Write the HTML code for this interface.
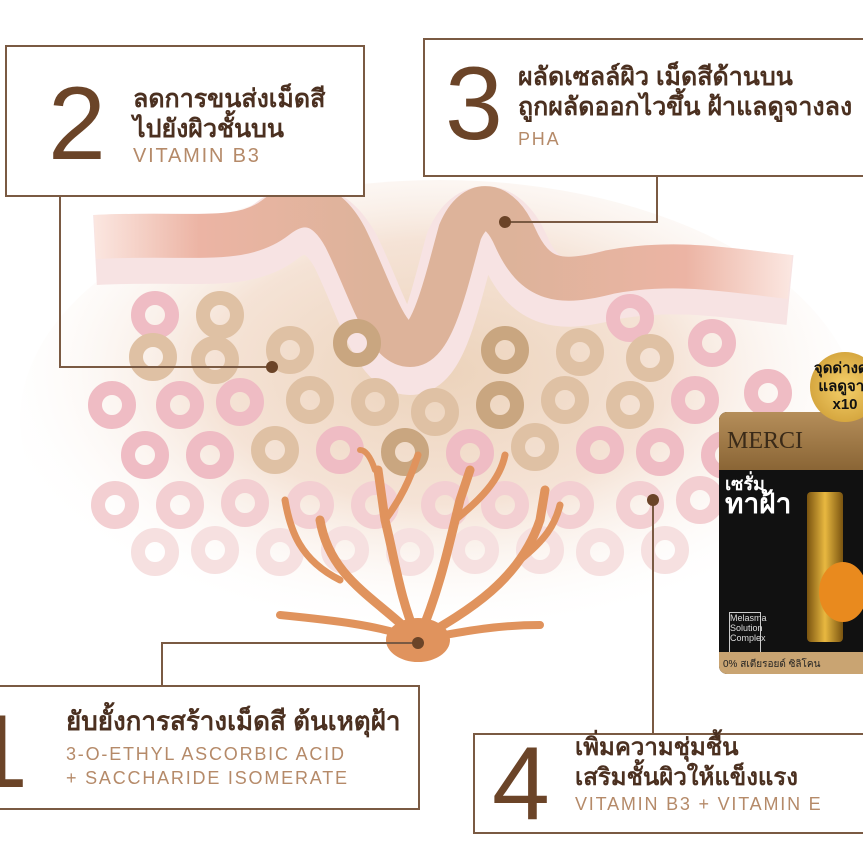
<!DOCTYPE html><html><head><meta charset="utf-8"><style>
body{margin:0;width:863px;height:863px;background:#fff;overflow:hidden;position:relative;font-family:"Liberation Sans","Noto Sans CJK SC",sans-serif}
.box{position:absolute;border:2px solid #7a5a43;background:#fff}
.num{position:absolute;font-family:"Liberation Sans",sans-serif;font-size:104px;color:#6b4428;line-height:1}
.th{position:absolute;color:#4b3020;font-weight:bold;font-size:25px;line-height:30px;font-family:"Liberation Sans","Noto Sans CJK SC","WenQuanYi Zen Hei",sans-serif;white-space:nowrap}
.sub{position:absolute;color:#b58a69;font-size:18px;letter-spacing:1.8px;line-height:24px;white-space:nowrap}
</style></head><body>
<svg width="863" height="863" style="position:absolute;left:0;top:0">
<defs>
<radialGradient id="bg" cx="0.5" cy="0.4" r="0.55"><stop offset="0" stop-color="#ecd3bb"/><stop offset="0.5" stop-color="#f5e3d6"/><stop offset="1" stop-color="#fff" stop-opacity="0"/></radialGradient>
<linearGradient id="band" x1="0" x2="1"><stop offset="0" stop-color="#fbe6e0"/><stop offset="0.15" stop-color="#ecb4a4"/><stop offset="0.4" stop-color="#ddb39a"/><stop offset="0.6" stop-color="#ddb39a"/><stop offset="0.85" stop-color="#ecb4a4"/><stop offset="1" stop-color="#fbe6e0"/></linearGradient>
</defs>
<ellipse cx="440" cy="420" rx="420" ry="240" fill="url(#bg)"/>
<path d="M95,250 C190,245 240,258 275,232 C300,212 325,215 345,250 C370,300 385,360 410,360 C432,360 445,300 460,245 C475,210 500,215 515,250 C535,295 560,298 610,285 C680,272 740,285 790,290" fill="none" stroke="#f7e3e3" stroke-width="70"/>
<path d="M95,237 C190,232 240,245 275,218 C300,198 325,200 345,237 C370,287 385,345 410,345 C432,345 445,287 460,232 C475,197 500,202 515,237 C535,282 560,285 610,272 C680,259 740,272 790,277" fill="none" stroke="url(#band)" stroke-width="44"/>
<g id="cells"></g>
<g fill="none" stroke="#e0935d" stroke-linecap="round">
<path d="M418,640 C400,600 395,560 385,520 L378,470" stroke-width="9"/>
<path d="M385,520 C400,500 410,480 418,455" stroke-width="7"/>
<path d="M418,640 C380,600 330,580 320,520" stroke-width="9"/>
<path d="M340,580 C300,560 290,530 285,500" stroke-width="7"/>
<path d="M418,640 C440,590 450,540 460,500 L470,470" stroke-width="9"/>
<path d="M455,520 C480,500 500,480 505,455" stroke-width="7"/>
<path d="M418,640 C470,610 520,580 540,520 L545,490" stroke-width="9"/>
<path d="M520,560 C545,540 555,525 560,505" stroke-width="7"/>
<path d="M418,640 C380,625 330,620 280,615" stroke-width="8"/>
<path d="M418,640 C470,630 500,625 540,625" stroke-width="8"/>
<path d="M375,470 C370,455 365,450 360,450" stroke-width="6"/>
</g>
<ellipse cx="418" cy="640" rx="32" ry="22" fill="#e0935d"/>
<g stroke="#7a5a43" stroke-width="2" fill="none">
<polyline points="60,195 60,367 272,367"/>
<polyline points="657,175 657,222 505,222"/>
<polyline points="162,685 162,643 418,643"/>
<polyline points="653,733 653,500"/>
</g>
<g fill="#6b4428"><circle cx="272" cy="367" r="6"/><circle cx="505" cy="222" r="6"/><circle cx="418" cy="643" r="6"/><circle cx="653" cy="500" r="6"/></g>
</svg>
<div class="box" style="left:5px;top:45px;width:356px;height:148px"></div>
<div class="num" style="left:48px;top:72px">2</div>
<div class="th" style="left:133px;top:84px">ลดการขนส่งเม็ดสี<br>ไปยังผิวชั้นบน</div>
<div class="sub" style="left:133px;top:144px;font-size:20px">VITAMIN B3</div>
<div class="box" style="left:423px;top:38px;width:450px;height:135px"></div>
<div class="num" style="left:445px;top:52px">3</div>
<div class="th" style="left:518px;top:62px">ผลัดเซลล์ผิว เม็ดสีด้านบน<br>ถูกผลัดออกไวขึ้น ฝ้าแลดูจางลง</div>
<div class="sub" style="left:518px;top:127px">PHA</div>
<div class="box" style="left:-5px;top:685px;width:421px;height:121px"></div>
<div class="num" style="left:-30px;top:700px">1</div>
<div class="th" style="left:66px;top:706px;font-size:26px">ยับยั้งการสร้างเม็ดสี ต้นเหตุฝ้า</div>
<div class="sub" style="left:66px;top:742px">3-O-ETHYL ASCORBIC ACID<br>+ SACCHARIDE ISOMERATE</div>
<div class="box" style="left:473px;top:733px;width:400px;height:97px"></div>
<div class="num" style="left:492px;top:732px">4</div>
<div class="th" style="left:575px;top:733px;font-size:24px">เพิ่มความชุ่มชื้น<br>เสริมชั้นผิวให้แข็งแรง</div>
<div class="sub" style="left:575px;top:792px">VITAMIN B3 + VITAMIN E</div>
<div style="position:absolute;left:719px;top:412px;width:150px;height:262px;background:#111;border-radius:8px 0 0 8px;overflow:hidden">
<div style="height:58px;background:linear-gradient(#b58e5a,#8a6535);color:#3a2a18;font-family:'Liberation Serif',serif;font-size:24px;padding:16px 0 0 8px;box-sizing:border-box">MERCI</div>
<div style="color:#fff;font-weight:bold;font-size:18px;padding:4px 6px;line-height:20px">เซรั่ม<br><span style="font-size:28px">ทาฝ้า</span></div>
<div style="position:absolute;left:88px;top:80px;width:36px;height:150px;background:linear-gradient(90deg,#7a5410,#e8b840,#7a5410);border-radius:4px"></div>
<div style="position:absolute;left:100px;top:150px;width:48px;height:60px;border-radius:50%;background:#e98a1e"></div>
<div style="position:absolute;left:10px;top:200px;width:30px;height:50px;border:1px solid #ccc;color:#ddd;font-size:9px">Melasma Solution Complex</div>
<div style="position:absolute;left:0;bottom:0;width:100%;height:22px;background:#c9a472;color:#222;font-size:10px;padding:5px 4px;box-sizing:border-box">0% สเตียรอยด์ ซิลิโคน</div>
</div>
<div style="position:absolute;left:810px;top:352px;width:70px;height:70px;border-radius:50%;background:radial-gradient(#f5d06a,#c9962e);color:#111;font-weight:bold;font-size:15px;text-align:center;line-height:18px;padding-top:8px;box-sizing:border-box">จุดด่างดำ<br>แลดูจาง<br>x10</div>
<script>
var cells=[
[155,315,'p'],[220,315,'t'],[630,318,'p'],
[153,357,'t'],[215,360,'t'],[290,350,'t'],[357,343,'d'],[505,350,'d'],[580,352,'t'],[650,358,'t'],[712,343,'p'],
[112,405,'p'],[180,405,'p'],[240,402,'p'],[310,400,'t'],[375,402,'t'],[435,412,'t'],[500,405,'d'],[565,400,'t'],[630,405,'t'],[695,400,'p'],[768,393,'p'],
[145,455,'p'],[210,455,'p'],[275,450,'t'],[340,450,'p'],[405,452,'d'],[470,453,'p'],[535,447,'t'],[600,450,'p'],[660,452,'p'],[725,455,'p'],
[115,505,'q'],[180,505,'q'],[245,503,'q'],[310,505,'q'],[375,505,'q'],[445,505,'q'],[505,505,'q'],[570,505,'q'],[640,505,'q'],[700,500,'q'],
[155,552,'r'],[215,550,'r'],[280,552,'r'],[345,550,'r'],[410,552,'r'],[475,550,'r'],[540,550,'r'],[600,552,'r'],[665,550,'r']];
var col={p:'#efbcc4',t:'#dfc1a4',d:'#c9a680',q:'#f3cfd2',r:'#f6e0e0'};
var g=document.getElementById('cells'),s='';
cells.forEach(function(c){s+='<circle cx="'+c[0]+'" cy="'+c[1]+'" r="17" fill="none" stroke="'+col[c[2]]+'" stroke-width="14"/>';});
g.innerHTML=s;
</script>
</body></html>
